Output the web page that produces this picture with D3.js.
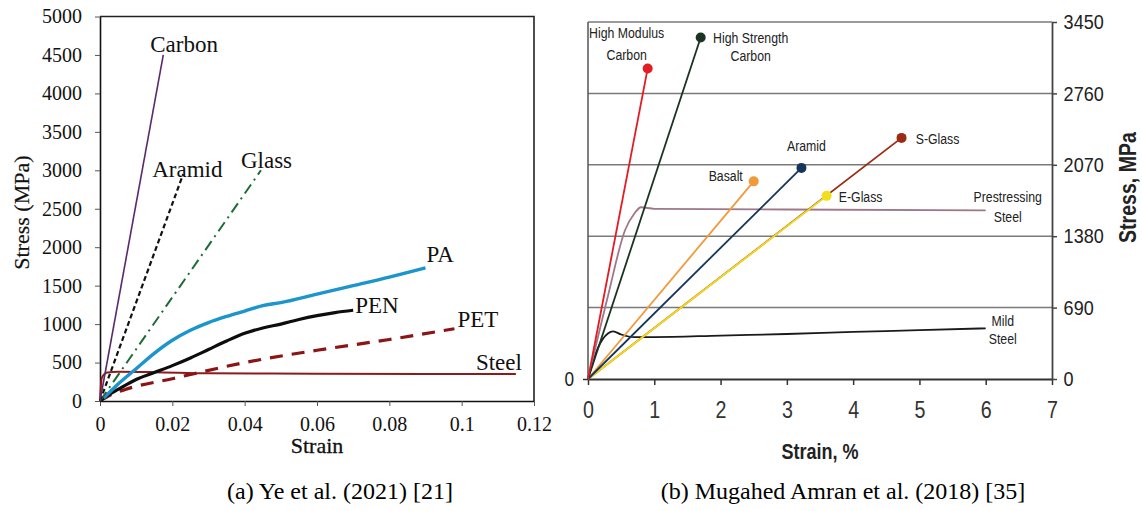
<!DOCTYPE html>
<html>
<head>
<meta charset="utf-8">
<script src="https://cdn.jsdelivr.net/npm/d3@7"></script>
<style>
  body { margin: 0; background: #fff; }
</style>
</head>
<body>
<svg id="chart" width="1142" height="511"></svg>
<script>
// ---- panel (a) : Ye et al. (2021), strain vs stress (MPa) ----
var strainTicksA = [0, 0.02, 0.04, 0.06, 0.08, 0.1, 0.12];
var stressTicksA = [0, 500, 1000, 1500, 2000, 2500, 3000, 3500, 4000, 4500, 5000];

var carbonA = [[0, 0], [0.0175, 4500]];
var aramidA = [[0, 0], [0.023, 2950]];
var glassA  = [[0, 0], [0.0445, 3000]];
var paA  = [[0.001, 40], [0.003, 130], [0.005, 220], [0.01, 420], [0.015, 620], [0.02, 790], [0.025, 920],
            [0.03, 1020], [0.035, 1100], [0.04, 1170], [0.045, 1240], [0.05, 1280], [0.06, 1390],
            [0.07, 1500], [0.08, 1610], [0.09, 1730]];
var penA = [[0, 0], [0.002, 70], [0.005, 150], [0.01, 280], [0.015, 370], [0.02, 460], [0.025, 560],
            [0.03, 670], [0.035, 780], [0.04, 880], [0.045, 950], [0.05, 1000], [0.055, 1060],
            [0.06, 1110], [0.065, 1150], [0.07, 1180]];
var petA = [[0, 0], [0.003, 80], [0.007, 150], [0.02, 290], [0.04, 500], [0.06, 660], [0.08, 800], [0.098, 940]];
var steelA = [[0, 0], [0.0005, 300], [0.002, 370], [0.005, 380], [0.015, 375], [0.03, 360], [0.06, 355], [0.115, 350]];

// ---- panel (b) : Mugahed Amran et al. (2018), strain % vs stress MPa ----
var strainTicksB = [0, 1, 2, 3, 4, 5, 6, 7];
var stressTicksB = [0, 690, 1380, 2070, 2760, 3450];

var hmCarbonB = [[0, 0], [0.9, 3000]];
var hsCarbonB = [[0, 0], [1.7, 3300]];
var prestressB = [[0, 0], [0.3, 800], [0.56, 1440], [0.7, 1600], [0.8, 1660], [1.0, 1645], [3, 1638], [6.0, 1630]];
var basaltB = [[0, 0], [2.5, 1910]];
var aramidB = [[0, 0], [3.22, 2040]];
var sGlassB = [[0, 0], [4.73, 2330]];
var eGlassB = [[0, 0], [3.6, 1770]];
var mildSteelB = [[0, 0], [0.15, 300], [0.3, 440], [0.38, 460], [0.5, 430], [0.7, 405], [1, 405],
                  [2, 420], [3, 435], [4, 455], [5, 472], [6, 490]];

var svg = d3.select("#chart");
var serif = "'Liberation Serif', 'Times New Roman', serif";
var sans = "'Liberation Sans', Arial, sans-serif";
var squeeze = 0.82;   // the right-hand figure uses a narrow sans face

// ================= panel (a) =================
var xA = d3.scaleLinear().domain([0, 0.12]).range([100, 534]);
var yA = d3.scaleLinear().domain([0, 5000]).range([401, 16.5]);

var gA = svg.append("g");

gA.append("g")
    .attr("transform", "translate(" + xA(0) + ",0)")
    .call(d3.axisLeft(yA).tickValues(stressTicksA).tickSize(5).tickSizeOuter(0).tickPadding(13)
          .tickFormat(d3.format("d")))
    .call(function(g) {
        g.attr("font-size", 20).attr("font-family", serif);
        g.select(".domain").attr("stroke", "#111").attr("stroke-width", 1.6);
        g.selectAll(".tick line").attr("stroke", "#555");
        g.selectAll("text").attr("fill", "#111");
    });

gA.append("g")
    .attr("transform", "translate(0," + yA(0) + ")")
    .call(d3.axisBottom(xA).tickValues(strainTicksA).tickSize(5).tickSizeOuter(0).tickPadding(11)
          .tickFormat(d3.format("~g")))
    .call(function(g) {
        g.attr("font-size", 20).attr("font-family", serif);
        g.select(".domain").attr("stroke", "#111").attr("stroke-width", 1.6);
        g.selectAll(".tick line").attr("stroke", "#555");
        g.selectAll("text").attr("fill", "#111");
    });

// top + right frame
gA.append("path")
    .attr("d", "M" + xA(0) + "," + yA(5000) + "H" + xA(0.12) + "V" + yA(0))
    .attr("fill", "none").attr("stroke", "#222").attr("stroke-width", 1.6);

gA.append("text")
    .attr("x", xA(0.06)).attr("y", 453)
    .attr("text-anchor", "middle")
    .attr("font-family", serif).attr("font-size", 22).attr("fill", "#111")
    .attr("stroke", "#111").attr("stroke-width", 0.3)
    .text("Strain");

gA.append("text")
    .attr("transform", "translate(29," + yA(2450) + ") rotate(-90)")
    .attr("text-anchor", "middle")
    .attr("font-family", serif).attr("font-size", 22).attr("fill", "#111")
    .attr("stroke", "#111").attr("stroke-width", 0.2)
    .text("Stress (MPa)");

var lineA = d3.line()
    .x(function(d) { return xA(d[0]); })
    .y(function(d) { return yA(d[1]); })
    .curve(d3.curveMonotoneX);

var seriesA = [
    {name: "Steel",  data: steelA,  color: "#8e1b1b", width: 2,   dash: null,        dx: 6,   dy: -4, anchor: "end"},
    {name: "PET",    data: petA,    color: "#8b1414", width: 3.2, dash: "13,9",      dx: 3,   dy: -2, anchor: "start"},
    {name: "PEN",    data: penA,    color: "#0d0d0d", width: 3.2, dash: null,        dx: 2,   dy: 3,  anchor: "start"},
    {name: "PA",     data: paA,     color: "#1c95cc", width: 3.4, dash: null,        dx: 1,   dy: -6, anchor: "start"},
    {name: "Glass",  data: glassA,  color: "#1d6b38", width: 2,   dash: "11,5,2,5",  dx: -20, dy: -2, anchor: "start"},
    {name: "Aramid", data: aramidA, color: "#111",    width: 2.2, dash: "5,3",       dx: -31, dy: 3,  anchor: "start"},
    {name: "Carbon", data: carbonA, color: "#5a2a6a", width: 1.6, dash: null,        dx: -13, dy: -3, anchor: "start"}
];

seriesA.forEach(function(s) {
    gA.append("path")
        .datum(s.data)
        .attr("fill", "none")
        .attr("stroke", s.color)
        .attr("stroke-width", s.width)
        .attr("stroke-dasharray", s.dash)
        .attr("stroke-linejoin", "round")
        .attr("d", lineA);
    var last = s.data[s.data.length - 1];
    gA.append("text")
        .attr("x", xA(last[0]) + s.dx)
        .attr("y", yA(last[1]) + s.dy)
        .attr("text-anchor", s.anchor)
        .attr("font-family", serif).attr("font-size", 23).attr("fill", "#111")
        .text(s.name);
});

// ================= panel (b) =================
var xB = d3.scaleLinear().domain([0, 7]).range([588, 1052]);
var yB = d3.scaleLinear().domain([0, 3450]).range([379, 22]);

var gB = svg.append("g");

// gridlines
gB.selectAll(".grid")
    .data(stressTicksB.filter(function(d) { return d > 0; }))
    .enter().append("line")
    .attr("class", "grid")
    .attr("x1", xB(0)).attr("x2", xB(7))
    .attr("y1", function(d) { return yB(d); })
    .attr("y2", function(d) { return yB(d); })
    .attr("stroke", "#7a7a7a").attr("stroke-width", 1.5);

// left frame
gB.append("line")
    .attr("x1", xB(0)).attr("x2", xB(0))
    .attr("y1", yB(0)).attr("y2", yB(3450))
    .attr("stroke", "#555").attr("stroke-width", 1.5);

gB.append("g")
    .attr("transform", "translate(" + xB(0) + ",0)")
    .call(d3.axisLeft(yB).tickValues([0]).tickSize(5).tickSizeOuter(0).tickPadding(12)
          .tickFormat(d3.format("d")))
    .call(function(g) {
        g.attr("font-size", 21).attr("font-family", sans);
        g.select(".domain").remove();
        g.selectAll(".tick line").attr("stroke", "#333").attr("stroke-width", 1.5);
        g.selectAll("text").attr("fill", "#222").attr("transform", "scale(" + squeeze + ",1)");
    });

gB.append("g")
    .attr("transform", "translate(0," + yB(0) + ")")
    .call(d3.axisBottom(xB).tickValues(strainTicksB).tickSize(6).tickSizeOuter(0).tickPadding(16)
          .tickFormat(d3.format("d")))
    .call(function(g) {
        g.attr("font-size", 24).attr("font-family", sans);
        g.select(".domain").attr("stroke", "#333").attr("stroke-width", 2.2);
        g.selectAll(".tick line").attr("stroke", "#333").attr("stroke-width", 1.5);
        g.selectAll("text").attr("fill", "#333").attr("transform", "scale(" + squeeze + ",1)");
    });

gB.append("g")
    .attr("transform", "translate(" + xB(7) + ",0)")
    .call(d3.axisRight(yB).tickValues(stressTicksB).tickSize(5).tickSizeOuter(0).tickPadding(8.5)
          .tickFormat(d3.format("d")))
    .call(function(g) {
        g.attr("font-size", 21).attr("font-family", sans);
        g.select(".domain").attr("stroke", "#444").attr("stroke-width", 1.8);
        g.selectAll(".tick line").attr("stroke", "#444").attr("stroke-width", 1.5);
        g.selectAll("text").attr("fill", "#222").attr("transform", "scale(0.86,1)");
    });

gB.append("text")
    .attr("transform", "translate(" + xB(3.5) + ",459) scale(" + squeeze + ",1)")
    .attr("text-anchor", "middle")
    .attr("font-family", sans).attr("font-size", 22).attr("font-weight", "bold").attr("fill", "#222")
    .text("Strain, %");

gB.append("text")
    .attr("transform", "translate(1136," + yB(1850) + ") rotate(-90) scale(0.85,1)")
    .attr("text-anchor", "middle")
    .attr("font-family", sans).attr("font-size", 23)
    .attr("font-weight", "bold").attr("fill", "#222")
    .text("Stress, MPa");

var lineB = d3.line()
    .x(function(d) { return xB(d[0]); })
    .y(function(d) { return yB(d[1]); })
    .curve(d3.curveMonotoneX);

var seriesB = [
    {lines: ["Mild", "Steel"],           data: mildSteelB, color: "#1a1a1a", dot: false, dx: 17, dy: [-2, 16]},
    {lines: ["Prestressing", "Steel"],   data: prestressB, color: "#9e7789", dot: false, dx: 22, dy: [-8, 12]},
    {lines: ["S-Glass"],                 data: sGlassB,    color: "#9b2b12", dot: true,  dx: 36, dy: [6]},
    {lines: ["E-Glass"],                 data: eGlassB,    color: "#f2de1a", dot: true,  dx: 34, dy: [6]},
    {lines: ["Basalt"],                  data: basaltB,    color: "#f09a3a", dot: true,  dx: -28, dy: [0]},
    {lines: ["Aramid"],                  data: aramidB,    color: "#15365a", dot: true,  dx: 5,  dy: [-17]},
    {lines: ["High Strength", "Carbon"], data: hsCarbonB,  color: "#1b3322", dot: true,  dx: 50, dy: [5, 23]},
    {lines: ["High Modulus", "Carbon"],  data: hmCarbonB,  color: "#e31b23", dot: true,  dx: -21, dy: [-31, -9]}
];

seriesB.forEach(function(s) {
    gB.append("path")
        .datum(s.data)
        .attr("fill", "none")
        .attr("stroke", s.color)
        .attr("stroke-width", 1.8)
        .attr("stroke-linejoin", "round")
        .attr("d", lineB);
    var last = s.data[s.data.length - 1];
    if (s.dot) {
        gB.append("circle")
            .attr("cx", xB(last[0])).attr("cy", yB(last[1]))
            .attr("r", 5).attr("fill", s.color);
    }
    s.lines.forEach(function(t, i) {
        gB.append("text")
            .attr("transform", "translate(" + (xB(last[0]) + s.dx) + "," + (yB(last[1]) + s.dy[i]) + ") scale(" + squeeze + ",1)")
            .attr("text-anchor", "middle")
            .attr("font-family", sans).attr("font-size", 15).attr("fill", "#222")
            .text(t);
    });
});

// ---- captions ----
var captions = ["(a) Ye et al. (2021) [21]", "(b) Mugahed Amran et al. (2018) [35]"];
var captionX = [340, 843];
svg.selectAll(".caption")
    .data(captions)
    .enter().append("text")
    .attr("class", "caption")
    .attr("x", function(d, i) { return captionX[i]; })
    .attr("y", 499)
    .attr("text-anchor", "middle")
    .attr("font-family", serif).attr("font-size", 24).attr("fill", "#000")
    .text(function(d) { return d; });
</script>
</body>
</html>
